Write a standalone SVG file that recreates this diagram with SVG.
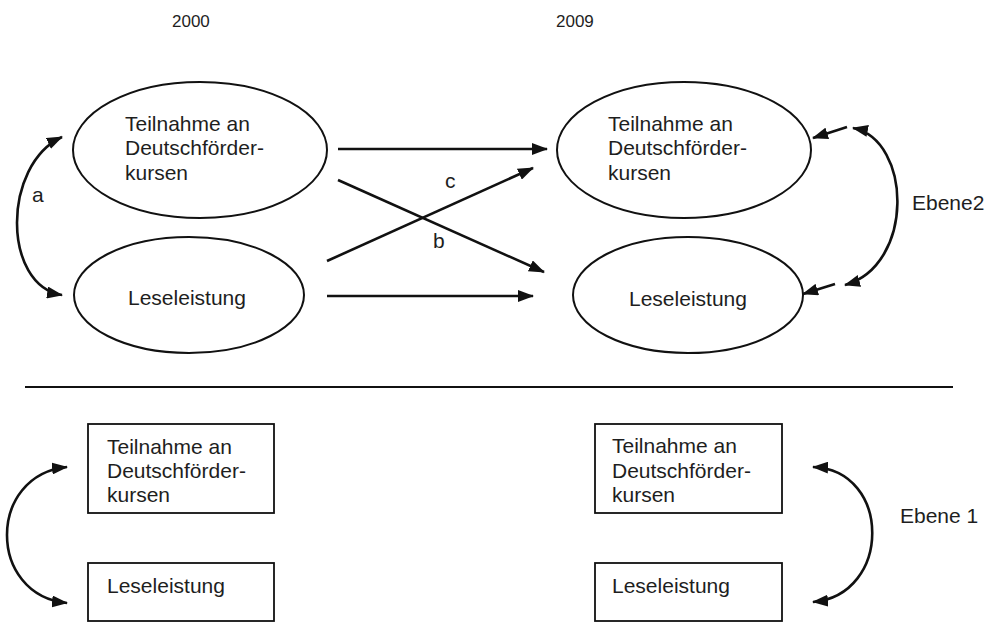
<svg xmlns="http://www.w3.org/2000/svg" width="991" height="623" viewBox="0 0 991 623">
<style>
  text { font-family: "Liberation Sans", Arial, sans-serif; font-size: 21px; fill: #1e1e1e; }
  .yr { font-size: 17px; }
  .shape { fill: #fff; stroke: #111; stroke-width: 2; }
  .box { fill: #fff; stroke: #111; stroke-width: 1.8; }
  .arr { fill: none; stroke: #111; stroke-width: 2.6; marker-end: url(#ah); }
  .dbl { fill: none; stroke: #111; stroke-width: 2.6; marker-start: url(#ah); marker-end: url(#ah); }
</style>
<defs>
  <marker id="ah" viewBox="0 0 16 12" refX="15" refY="6" markerWidth="16" markerHeight="12" markerUnits="userSpaceOnUse" orient="auto-start-reverse">
    <path d="M0,0 L16,6 L0,12 z" fill="#111"/>
  </marker>
</defs>
<rect width="991" height="623" fill="#fff"/>

<g id="years">
  <text class="yr" x="172" y="27">2000</text>
  <text class="yr" x="556" y="27">2009</text>
</g>

<g id="n2000-teilnahme">
  <ellipse class="shape" cx="200" cy="150" rx="127" ry="68"/>
  <text x="125" y="131">Teilnahme an</text>
  <text x="125" y="155">Deutschförder-</text>
  <text x="125" y="180">kursen</text>
</g>
<g id="n2000-lese">
  <ellipse class="shape" cx="189" cy="295" rx="115" ry="58"/>
  <text x="128" y="305">Leseleistung</text>
</g>
<g id="n2009-teilnahme">
  <ellipse class="shape" cx="684" cy="150" rx="127" ry="68"/>
  <text x="608" y="131">Teilnahme an</text>
  <text x="608" y="155">Deutschförder-</text>
  <text x="608" y="180">kursen</text>
</g>
<g id="n2009-lese">
  <ellipse class="shape" cx="688" cy="295" rx="115" ry="58"/>
  <text x="629" y="306">Leseleistung</text>
</g>

<g id="b2000-teilnahme">
  <rect class="box" x="88" y="424" width="186" height="89"/>
  <text x="107" y="454">Teilnahme an</text>
  <text x="107" y="478">Deutschförder-</text>
  <text x="107" y="502">kursen</text>
</g>
<g id="b2000-lese">
  <rect class="box" x="88" y="563" width="186" height="58"/>
  <text x="107" y="593">Leseleistung</text>
</g>
<g id="b2009-teilnahme">
  <rect class="box" x="595" y="424" width="187" height="89"/>
  <text x="612" y="453">Teilnahme an</text>
  <text x="612" y="478">Deutschförder-</text>
  <text x="612" y="502">kursen</text>
</g>
<g id="b2009-lese">
  <rect class="box" x="595" y="563" width="187" height="58"/>
  <text x="612" y="593">Leseleistung</text>
</g>

<g id="connectors">
  <line class="arr" x1="338" y1="149" x2="547" y2="149"/>
  <line class="arr" x1="327" y1="296" x2="533" y2="296"/>
  <line class="arr" x1="338" y1="180" x2="544" y2="272"/>
  <line class="arr" x1="327" y1="261" x2="533" y2="168"/>
  <path class="dbl" d="M62,137 C2,165 2,285 62,295"/>
  <path class="dbl" d="M853,128 C912,140 915,265 845,285"/>
  <line class="arr" x1="847" y1="127" x2="813" y2="138"/>
  <line class="arr" x1="835" y1="284" x2="803" y2="294"/>
  <path class="dbl" d="M67,467 C-13,475 -13,595 67,603"/>
  <path class="dbl" d="M813,467 C892,470 892,595 813,602"/>
  <line x1="25" y1="387" x2="953" y2="387" stroke="#111" stroke-width="2"/>
</g>

<g id="labels">
  <text x="32" y="202">a</text>
  <text x="445" y="188">c</text>
  <text x="433" y="248">b</text>
  <text x="912" y="210">Ebene2</text>
  <text x="900" y="523">Ebene 1</text>
</g>
</svg>
